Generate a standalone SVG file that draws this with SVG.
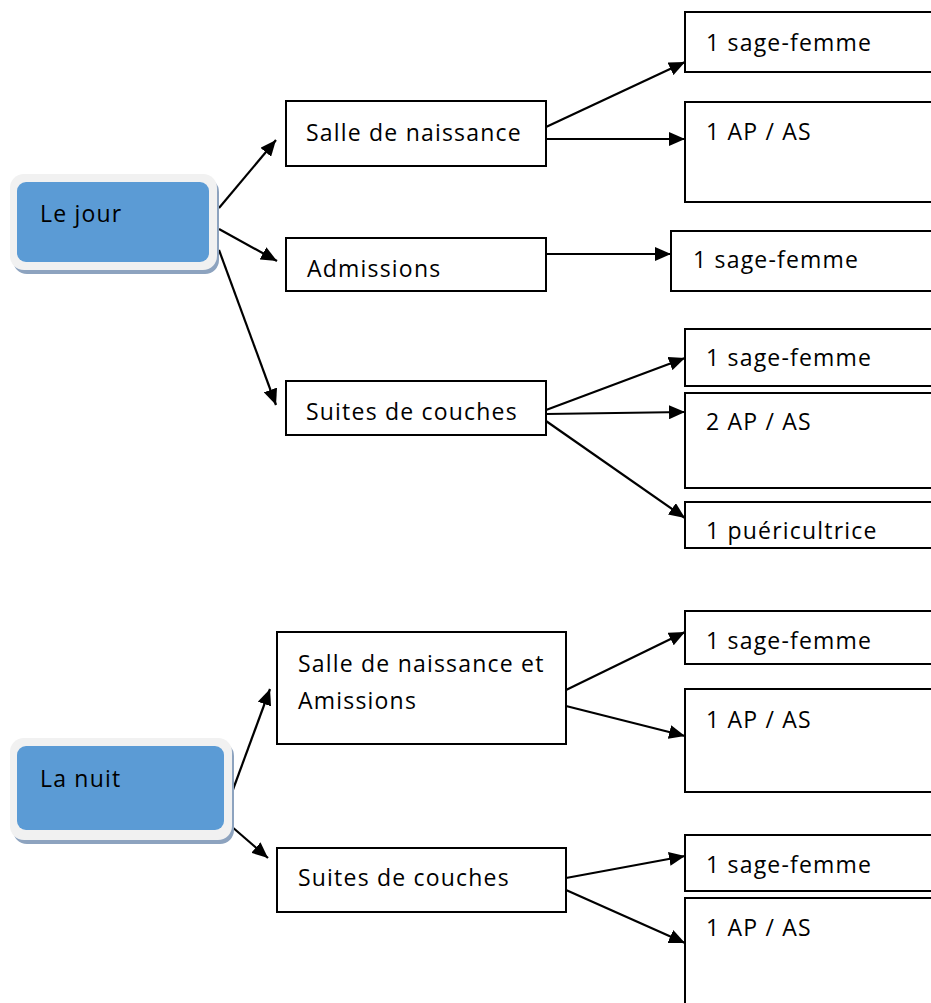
<svg xmlns="http://www.w3.org/2000/svg" width="931" height="1003" viewBox="0 0 931 1003">
<defs>
<style>
.box{fill:#fff;stroke:#000;stroke-width:2}
.t{font-family:"Open Sans","Liberation Sans",sans-serif;font-size:23px;fill:#000;letter-spacing:1.2px}
.c{stroke:#000;stroke-width:2.2;fill:none;marker-end:url(#ah)}
.outer{fill:#f1f1f1}
.shadow{fill:#8da3bf}
.inner{fill:#5b9bd5}
</style>
<marker id="ah" viewBox="0 0 16 14" refX="16" refY="7" markerWidth="16" markerHeight="14" markerUnits="userSpaceOnUse" orient="auto">
<path d="M0,0 L16,7 L0,14 Z" fill="#000"/>
</marker>
</defs>
<rect width="931" height="1003" fill="#fff"/>

<g id="connectors">
<line class="c" x1="219" y1="208" x2="276" y2="140"/>
<line class="c" x1="219" y1="229" x2="277" y2="261"/>
<line class="c" x1="219" y1="250" x2="276" y2="405"/>
<line class="c" x1="546" y1="127" x2="685" y2="62"/>
<line class="c" x1="546" y1="139" x2="685" y2="139"/>
<line class="c" x1="546" y1="254" x2="671" y2="254"/>
<line class="c" x1="546" y1="410" x2="685" y2="358"/>
<line class="c" x1="546" y1="414" x2="685" y2="412"/>
<line class="c" x1="546" y1="421" x2="685" y2="518"/>
<line class="c" x1="231" y1="795" x2="270" y2="689"/>
<line class="c" x1="231" y1="826" x2="268" y2="858"/>
<line class="c" x1="566" y1="690" x2="685" y2="632"/>
<line class="c" x1="566" y1="706" x2="685" y2="736"/>
<line class="c" x1="566" y1="878" x2="685" y2="856"/>
<line class="c" x1="566" y1="890" x2="685" y2="943"/>
</g>

<g id="le-jour">
<rect class="shadow" x="13" y="178" width="206" height="96" rx="14"/>
<rect class="outer" x="10" y="174" width="207" height="96" rx="14"/>
<rect class="inner" x="17" y="182" width="192" height="80" rx="9"/>
<text class="t" x="40" y="222">Le jour</text>
</g>

<g id="la-nuit">
<rect class="shadow" x="13" y="742" width="221" height="102" rx="14"/>
<rect class="outer" x="10" y="738" width="222" height="102" rx="14"/>
<rect class="inner" x="17" y="746" width="207" height="84" rx="9"/>
<text class="t" x="40" y="787">La nuit</text>
</g>

<g id="jour-salle">
<rect class="box" x="286" y="101" width="260" height="65"/>
<text class="t" x="306" y="141">Salle de naissance</text>
</g>
<g id="jour-salle-sf">
<rect class="box" x="685" y="12" width="250" height="60"/>
<text class="t" x="706" y="51">1 sage-femme</text>
</g>
<g id="jour-salle-ap">
<rect class="box" x="685" y="102" width="250" height="100"/>
<text class="t" x="706" y="140">1 AP / AS</text>
</g>

<g id="jour-admissions">
<rect class="box" x="286" y="238" width="260" height="53"/>
<text class="t" x="307" y="277">Admissions</text>
</g>
<g id="jour-admissions-sf">
<rect class="box" x="671" y="231" width="264" height="60"/>
<text class="t" x="693" y="268">1 sage-femme</text>
</g>

<g id="jour-suites">
<rect class="box" x="286" y="381" width="260" height="54"/>
<text class="t" x="306" y="420">Suites de couches</text>
</g>
<g id="jour-suites-sf">
<rect class="box" x="685" y="329" width="250" height="57"/>
<text class="t" x="706" y="366">1 sage-femme</text>
</g>
<g id="jour-suites-ap">
<rect class="box" x="685" y="393" width="250" height="95"/>
<text class="t" x="706" y="430">2 AP / AS</text>
</g>
<g id="jour-suites-pu">
<rect class="box" x="685" y="502" width="250" height="46"/>
<text class="t" x="706" y="539">1 puéricultrice</text>
</g>

<g id="nuit-salle">
<rect class="box" x="277" y="632" width="289" height="112"/>
<text class="t" x="298" y="672">Salle de naissance et</text>
<text class="t" x="298" y="709">Amissions</text>
</g>
<g id="nuit-salle-sf">
<rect class="box" x="685" y="611" width="250" height="53"/>
<text class="t" x="706" y="649">1 sage-femme</text>
</g>
<g id="nuit-salle-ap">
<rect class="box" x="685" y="689" width="250" height="103"/>
<text class="t" x="706" y="728">1 AP / AS</text>
</g>

<g id="nuit-suites">
<rect class="box" x="277" y="848" width="289" height="64"/>
<text class="t" x="298" y="886">Suites de couches</text>
</g>
<g id="nuit-suites-sf">
<rect class="box" x="685" y="835" width="250" height="56"/>
<text class="t" x="706" y="873">1 sage-femme</text>
</g>
<g id="nuit-suites-ap">
<rect class="box" x="685" y="898" width="250" height="120"/>
<text class="t" x="706" y="936">1 AP / AS</text>
</g>
</svg>
